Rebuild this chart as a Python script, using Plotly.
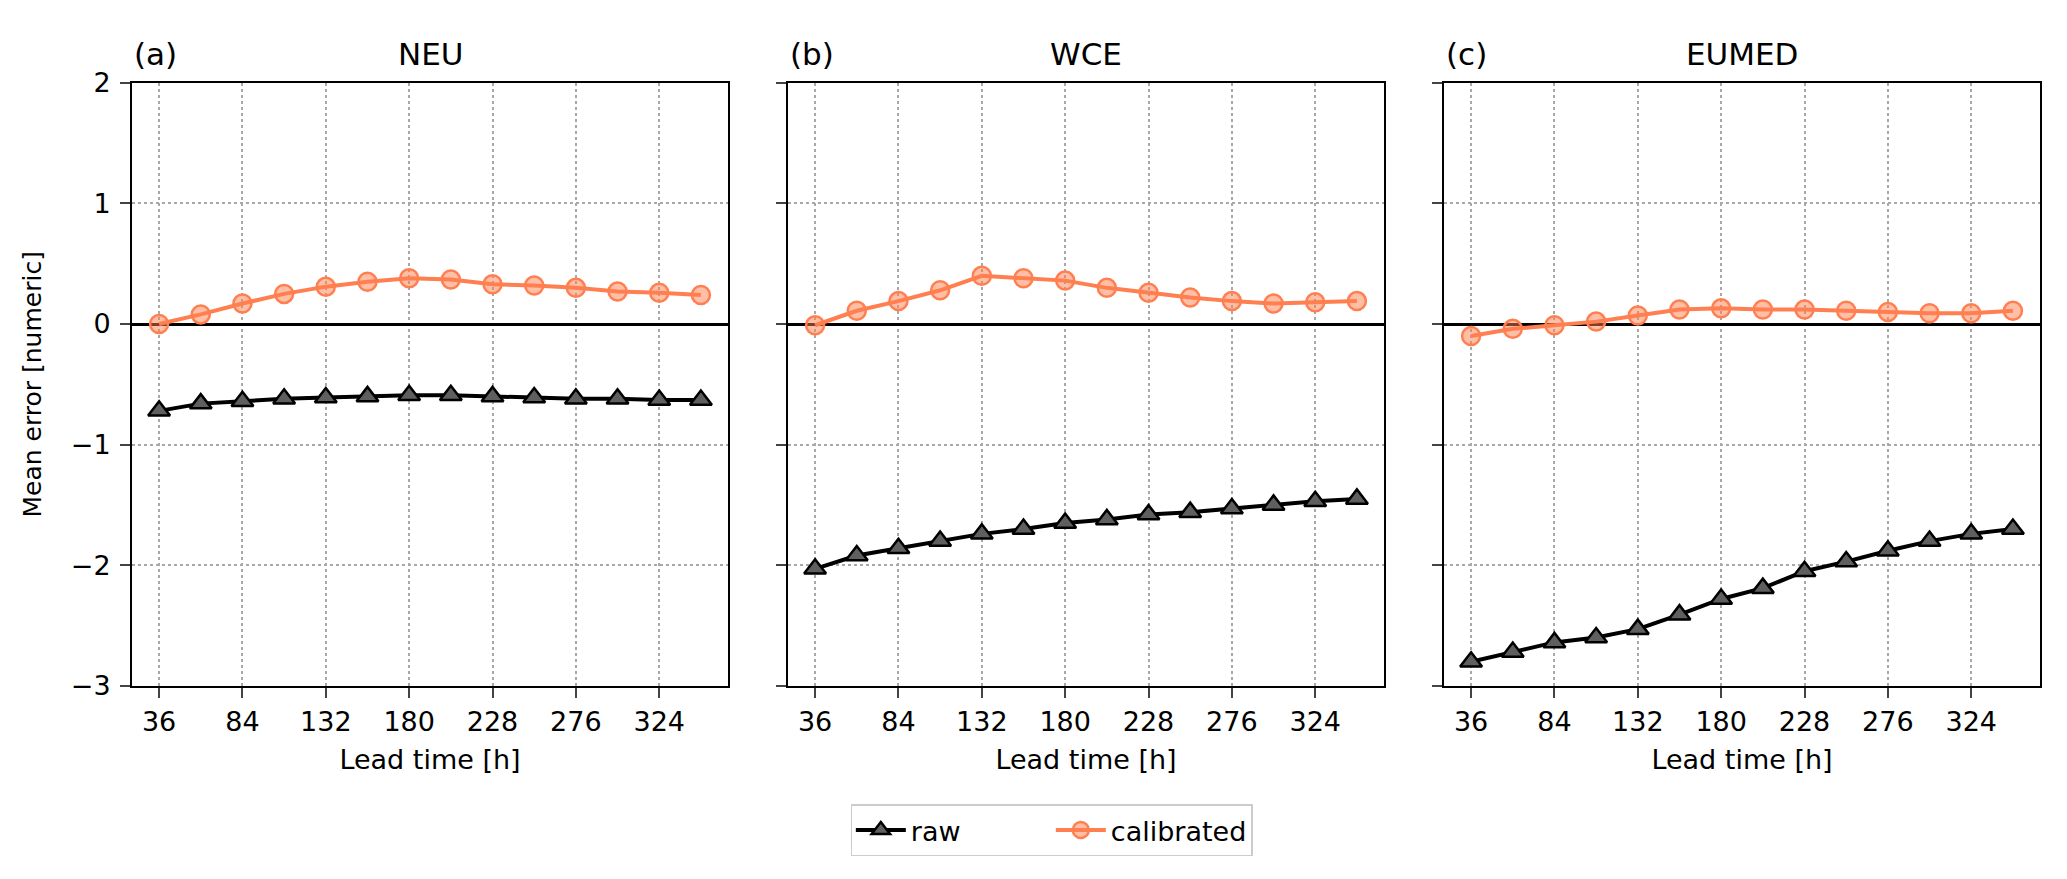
import plotly.graph_objects as go

lead_time = [36, 60, 84, 108, 132, 156, 180, 204, 228, 252, 276, 300, 324, 348]
regions = ["NEU", "WCE", "EUMED"]
panel_labels = ["(a)", "(b)", "(c)"]

raw_neu = [-0.72, -0.66, -0.64, -0.62, -0.61, -0.60, -0.59, -0.59, -0.60, -0.61, -0.62, -0.62, -0.63, -0.63]
cal_neu = [0.00, 0.08, 0.17, 0.25, 0.31, 0.35, 0.38, 0.37, 0.33, 0.32, 0.30, 0.27, 0.26, 0.24]
raw_wce = [-2.03, -1.92, -1.86, -1.80, -1.74, -1.70, -1.65, -1.62, -1.58, -1.56, -1.53, -1.50, -1.47, -1.45]
cal_wce = [-0.01, 0.11, 0.19, 0.28, 0.40, 0.38, 0.36, 0.30, 0.26, 0.22, 0.19, 0.17, 0.18, 0.19]
raw_eumed = [-2.80, -2.72, -2.64, -2.60, -2.53, -2.41, -2.28, -2.19, -2.05, -1.97, -1.88, -1.80, -1.74, -1.70]
cal_eumed = [-0.10, -0.04, -0.01, 0.02, 0.07, 0.12, 0.13, 0.12, 0.12, 0.11, 0.10, 0.09, 0.09, 0.11]

raw_series = [raw_neu, raw_wce, raw_eumed]
cal_series = [cal_neu, cal_wce, cal_eumed]

x_ticks = [36, 84, 132, 180, 228, 276, 324]
y_ticks = [-3, -2, -1, 0, 1, 2]

W, H = 2067, 879
panels_px = [(124, 720), (780, 1376), (1436, 2032)]
y_top_px, y_bot_px = 61, 686

CORAL = "#FF7F50"
FONT = "DejaVu Sans"

fig = go.Figure()
for i in range(3):
    xa = "x" if i == 0 else f"x{i+1}"
    ya = "y" if i == 0 else f"y{i+1}"
    fig.add_trace(go.Scatter(
        x=lead_time, y=raw_series[i], xaxis=xa, yaxis=ya, mode="lines+markers",
        name="raw", showlegend=(i == 0), legendgroup="raw",
        line=dict(color="black", width=4),
        marker=dict(symbol="triangle-up", size=19, color="rgba(95,95,95,1)",
                    line=dict(color="black", width=2.5)),
    ))
    fig.add_trace(go.Scatter(
        x=lead_time, y=cal_series[i], xaxis=xa, yaxis=ya, mode="lines+markers",
        name="calibrated", showlegend=(i == 0), legendgroup="cal",
        line=dict(color=CORAL, width=4),
        marker=dict(symbol="circle", size=18, color="rgba(255,127,80,0.5)",
                    line=dict(color=CORAL, width=2.5)),
    ))

layout = dict(
    width=W, height=H, margin=dict(l=0, r=0, t=0, b=0),
    paper_bgcolor="white", plot_bgcolor="white",
    font=dict(family=FONT, size=27, color="black"),
    legend=dict(orientation="h", x=0.505, y=0.049, xanchor="center", yanchor="middle",
                bordercolor="#cccccc", borderwidth=1.5, font=dict(size=27),
                itemwidth=50, entrywidth=135, entrywidthmode="pixels", tracegroupgap=0),
)
annotations = []
for i in range(3):
    sfx = "" if i == 0 else str(i + 1)
    x0, x1 = panels_px[i]
    layout["xaxis" + sfx] = dict(
        domain=[x0 / W, x1 / W], range=[20.4, 363.6], anchor="y" + sfx,
        tickmode="array", tickvals=x_ticks, ticks="outside", ticklen=10, tickwidth=2,
        ticklabelstandoff=1,
        showline=True, mirror=True, linecolor="black", linewidth=2,
        showgrid=True, gridcolor="#a8a8a8", griddash="dot", gridwidth=1.5,
        zeroline=False, tickfont=dict(size=27),
        title=dict(text="Lead time [h]", font=dict(size=27), standoff=14),
    )
    layout["yaxis" + sfx] = dict(
        domain=[1 - y_bot_px / H, 1 - y_top_px / H], range=[-3, 2], anchor="x" + sfx,
        tickmode="array", tickvals=y_ticks, ticks="outside", ticklen=10, tickwidth=2,
        showticklabels=(i == 0), ticklabelstandoff=4,
        showline=True, mirror=True, linecolor="black", linewidth=2,
        showgrid=True, gridcolor="#a8a8a8", griddash="dot", gridwidth=1.5,
        zeroline=True, zerolinecolor="black", zerolinewidth=2.5,
        tickfont=dict(size=27),
    )
    if i == 0:
        layout["yaxis"]["title"] = dict(text="Mean error [numeric]", font=dict(size=25), standoff=22)
    annotations.append(dict(text=regions[i], xref="paper", yref="paper",
                            x=(x0 + x1) / 2 / W, y=1 - 52 / H, xanchor="center", yanchor="bottom",
                            showarrow=False, font=dict(size=31)))
    annotations.append(dict(text=panel_labels[i], xref="paper", yref="paper",
                            x=x0 / W, y=1 - 52 / H, xanchor="left", yanchor="bottom",
                            showarrow=False, font=dict(size=31)))
layout["annotations"] = annotations
fig.update_layout(**layout)
fig.write_html("out.html")
